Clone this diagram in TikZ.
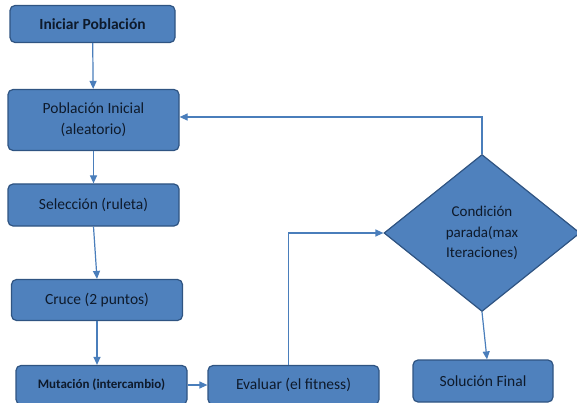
\documentclass[tikz,border=0pt]{standalone}
\usepackage{fontspec}
\setmainfont{Carlito}
\definecolor{boxfill}{HTML}{4F81BD}
\definecolor{boxline}{HTML}{2F5482}
\definecolor{ink}{HTML}{0E1A2B}
\definecolor{link}{HTML}{4A7EBB}
\usetikzlibrary{
  arrows.meta,
  positioning,
  shapes.geometric
}
\tikzset{
  >={Triangle[length=8pt,width=7pt]},
  every node/.style={font=\fontsize{15.5}{19}\selectfont, text=ink},
  block/.style={
    draw=boxline,
    fill=boxfill,
    rounded corners=5pt,
    line width=1.2pt,
    align=center,
    inner sep=0pt
  },
  decision/.style={
    diamond,
    draw=boxline,
    fill=boxfill,
    line width=1.2pt,
    align=center,
    inner sep=0pt,
    font=\fontsize{15}{20.5}\selectfont
  },
  arrow/.style={->, line width=1.2pt, draw=link}
}

\begin{document}
\begin{tikzpicture}[x=1pt, y=-1pt]
  \useasboundingbox (0,0) rectangle (577,403);

  \node[block, minimum width=165pt, minimum height=37pt, font=\fontsize{15.5}{19}\selectfont\bfseries] (ini) at (92.5,24) {Iniciar Población};
  \node[block, minimum width=171pt, minimum height=61pt] (pob) at (93.5,120) {Población Inicial\\[2pt](aleatorio)};
  \node[block, minimum width=171pt, minimum height=42pt] (sel) at (93.5,205) {Selección (ruleta)};
  \node[block, minimum width=171pt, minimum height=41pt] (cruce) at (97,300) {Cruce (2 puntos)};
  \node[block, minimum width=171pt, minimum height=39pt, font=\fontsize{13}{16}\selectfont\bfseries] (mut) at (101.5,385) {Mutación (intercambio)};
  \node[block, minimum width=171pt, minimum height=39pt] (eval) at (293.5,385) {Evaluar (el fitness)};
  \node[decision, minimum width=196pt, minimum height=157pt] (cond) at (482,233) {Condición\\parada(max\\Iteraciones)};
  \node[block, minimum width=140pt, minimum height=42pt] (sol) at (483,381) {Solución Final};

  \draw[arrow] (ini) -- (pob);
  \draw[arrow] (pob) -- (sel);
  \draw[arrow] (sel.south) -- (cruce.north);
  \draw[arrow] (cruce.south) -- (cruce.south |- mut.north);
  \draw[arrow] (mut) -- (eval);
  \draw[arrow] ([xshift=-5pt]eval.north) |- (cond.west);
  \draw[arrow] (cond.north) |- ([yshift=3pt]pob.east);
  \draw[arrow] (cond.south) -- ([xshift=4pt]sol.north);
\end{tikzpicture}
\end{document}
